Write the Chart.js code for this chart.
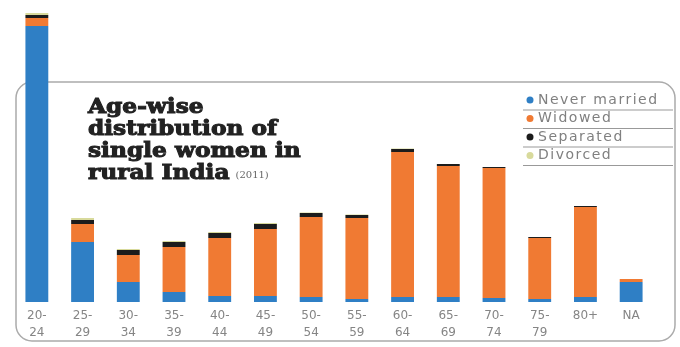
<!DOCTYPE html>
<html>
<head>
<meta charset="utf-8">
<script src="https://cdn.jsdelivr.net/npm/chart.js@4"></script>
<style>
  html, body { margin: 0; padding: 0; background: #fff; }
  .chart { width: 680px; height: 347px; position: relative; }
</style>
</head>
<body>
<div class="chart"><canvas id="c"></canvas></div>
<script>
// age groups (two-line tick labels)
const ageGroups = [
  ["20-", "24"], ["25-", "29"], ["30-", "34"], ["35-", "39"], ["40-", "44"],
  ["45-", "49"], ["50-", "54"], ["55-", "59"], ["60-", "64"], ["65-", "69"],
  ["70-", "74"], ["75-", "79"], "80+", "NA"
];

// values (relative units, no axis shown)
const neverMarried = [276, 60, 20, 10, 6, 6, 5, 3, 5, 5, 4, 3, 5, 20];
const widowed = [8, 18, 27, 45, 58, 67, 80, 81, 145, 131, 130, 61, 90, 3];
const separated = [3, 4, 5, 5, 5, 5, 4, 3, 3, 2, 1, 1, 1, 0];
const divorced = [2, 2, 1, 1, 1, 1, 0.5, 0.5, 0.5, 0, 0, 0, 0, 0];

const seriesNames = ["Never married", "Widowed", "Separated", "Divorced"];
const seriesColors = ["#2f7fc5", "#f07a33", "#1c1c1c", "#d8da9c"];

const titleLines = ["Age-wise", "distribution of", "single women in", "rural India"];
const titleNote = "(2011)";

const overlay = {
  id: "overlay",
  beforeDatasetsDraw: (chart) => {
    const ctx = chart.ctx;
    ctx.save();
    ctx.beginPath();
    ctx.roundRect(16, 82, 659, 259, 16);
    ctx.strokeStyle = "#ababab";
    ctx.lineWidth = 1.5;
    ctx.stroke();
    ctx.restore();
  },
  afterDraw: (chart) => {
    const ctx = chart.ctx;
    ctx.save();

    // title, thickened with a stroke to get the heavy slab look
    ctx.font = "bold 20px 'DejaVu Serif'";
    ctx.fillStyle = "#222";
    ctx.strokeStyle = "#222";
    ctx.lineWidth = 1;
    ctx.textBaseline = "alphabetic";
    const sx = 189 / ctx.measureText("distribution of").width;
    const baselines = [113, 135, 157, 179];
    titleLines.forEach((line, i) => {
      ctx.save();
      ctx.translate(88, baselines[i]);
      ctx.scale(sx, 1);
      ctx.fillText(line, 0, 0);
      ctx.strokeText(line, 0, 0);
      ctx.restore();
    });
    const lastW = ctx.measureText(titleLines[3]).width * sx;
    ctx.font = "10px 'DejaVu Serif'";
    ctx.fillStyle = "#666";
    ctx.fillText(titleNote, 88 + lastW + 6, 178);

    // legend
    ctx.font = "14px 'DejaVu Sans'";
    ctx.letterSpacing = "1.5px";
    ctx.textBaseline = "middle";
    chart.data.datasets.forEach((ds, i) => {
      const y = 100 + i * 18.5;
      ctx.beginPath();
      ctx.arc(530, y, 3.5, 0, Math.PI * 2);
      ctx.fillStyle = ds.backgroundColor;
      ctx.fill();
      ctx.fillStyle = "#808080";
      ctx.fillText(ds.label, 538, y);
      ctx.beginPath();
      ctx.moveTo(523, y + 10);
      ctx.lineTo(673, y + 10);
      ctx.strokeStyle = "#999";
      ctx.lineWidth = 1;
      ctx.stroke();
    });
    ctx.restore();
  },
};

const values = [neverMarried, widowed, separated, divorced];

new Chart(document.getElementById("c"), {
  type: "bar",
  data: {
    labels: ageGroups,
    datasets: seriesNames.map((name, i) => ({
      label: name,
      data: values[i],
      backgroundColor: seriesColors[i],
      borderWidth: 0,
      barPercentage: 0.5,
      categoryPercentage: 1,
    })),
  },
  options: {
    responsive: true,
    maintainAspectRatio: false,
    animation: false,
    layout: {
      padding: { left: 14, right: 26, top: 2, bottom: 0 },
    },
    scales: {
      x: {
        stacked: true,
        grid: { display: false },
        border: { display: false },
        ticks: {
          padding: -3,
          color: "#858585",
          font: { family: "DejaVu Sans", size: 12, lineHeight: 17 / 12 },
          maxRotation: 0,
          autoSkip: false,
        },
        afterFit: (scale) => {
          scale.height = 45;
        },
      },
      y: {
        stacked: true,
        display: false,
        min: 0,
        max: 300,
      },
    },
    plugins: {
      legend: { display: false },
      tooltip: { enabled: false },
    },
  },
  plugins: [overlay],
});
</script>
</body>
</html>
